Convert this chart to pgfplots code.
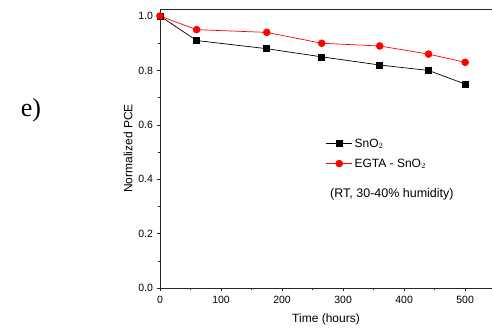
\documentclass[border=0pt]{standalone}
\usepackage{pgfplots}
\pgfplotsset{compat=1.18}
\usepackage{fontspec}
\setmainfont{Liberation Sans}
\newfontfamily\seriffont{Liberation Serif}
\begin{document}
\begin{tikzpicture}
\begin{axis}[
  at={(0,0)}, anchor=south west,
  scale only axis, width=332pt, height=279pt,
  xmin=0, xmax=544, ymin=0, ymax=1.026,
  axis line style={line width=0.8pt, black!85},
  separate axis lines,
  axis x line*=bottom, axis y line*=left,
  xtick={0,100,...,500}, minor xtick={50,150,...,550},
  ytick={0,0.2,...,1.0}, minor ytick={0.1,0.3,...,0.9},
  yticklabel style={/pgf/number format/.cd, fixed, fixed zerofill, precision=1},
  tick align=outside, tick pos=left,
  major tick length=3.5pt, minor tick length=2.5pt,
  every tick/.style={black!85, line width=0.6pt},
  tick label style={font=\fontsize{10.5}{11}\selectfont},
  xticklabel style={yshift=-1pt},
  /pgf/number format/assume math mode=true,
  xlabel={Time (hours)}, ylabel={Normalized PCE},
  label style={font=\fontsize{12}{13}\selectfont},
  xlabel style={yshift=-3pt},
  ylabel style={yshift=-1pt},
  legend style={draw=none, fill=none, at={(0.49,0.55)}, anchor=north west,
    font=\fontsize{12}{13}\selectfont, row sep=6pt},
  legend cell align=left,
  legend image code/.code={\draw[#1] (0pt,0pt) -- (26pt,0pt); \draw[#1, mark repeat=1] plot coordinates {(13pt,0pt)};},
  clip=false,
]
\addplot[black, line width=0.7pt, mark=square*, mark size=3pt, mark options={solid,fill=black}]
  coordinates {(0,1.0)(60,0.91)(175,0.88)(265,0.85)(360,0.82)(440,0.80)(500,0.75)};
\addlegendentry{SnO$_2$}
\addplot[red, line width=0.7pt, mark=*, mark size=3.4pt, mark options={solid,fill=red}]
  coordinates {(0,1.0)(60,0.95)(175,0.94)(265,0.90)(360,0.89)(440,0.86)(500,0.83)};
\addlegendentry{EGTA - SnO$_2$}
\draw[line width=0.8pt, black!85] (rel axis cs:0,1) -- (rel axis cs:1.01,1);
\node[font=\fontsize{12.5}{13}\selectfont] at (axis cs:380,0.345) {(RT, 30-40\% humidity)};
\end{axis}
\node[font=\seriffont\fontsize{26}{28}\selectfont] at (-129pt,178pt) {e)};
\pgfresetboundingbox
\useasboundingbox (-160pt,-40pt) rectangle (332pt,288pt);
\end{tikzpicture}
\end{document}
